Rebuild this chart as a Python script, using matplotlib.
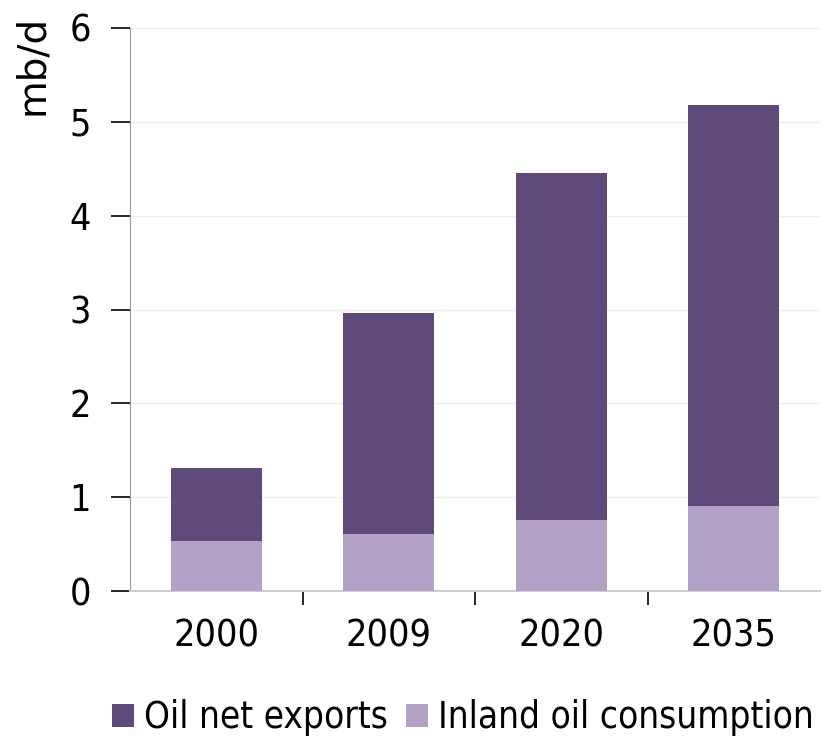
import numpy as np
from matplotlib import pyplot as plt

years = ["2000", "2009", "2020", "2035"]
inland = [0.53, 0.61, 0.76, 0.91]
exports = [0.78, 2.35, 3.69, 4.27]

dark = "#604a7b"
light = "#b3a2c7"

plt.rcParams["font.family"] = "DejaVu Sans"
plt.rcParams["font.stretch"] = "condensed"

fig = plt.figure(figsize=(8.21, 7.36), dpi=100)
ax = fig.add_axes([130 / 821, 145 / 736, 690 / 821, 563 / 736])

x = np.arange(len(years))
w = 0.53
ax.bar(x, exports, w, bottom=inland, color=dark, label="Oil net exports", zorder=3)
ax.bar(x, inland, w, color=light, label="Inland oil consumption", zorder=3)

ax.set_xlim(-0.5, 3.5)
ax.set_ylim(0, 6)
ax.set_yticks(range(7))
ax.set_xticks(x)
ax.set_xticklabels(years)
ax.set_xticks([0.5, 1.5, 2.5], minor=True)
ax.tick_params(axis="x", which="major", length=0, pad=20, labelsize=27)
ax.tick_params(axis="x", which="minor", length=10, width=1.2, color="black", direction="out")
ax.tick_params(axis="y", length=14, width=1.2, color="black", labelsize=27, pad=14)
ax.grid(axis="y", color="#eeeeee", linewidth=1, zorder=0)

for s in ["top", "right"]:
    ax.spines[s].set_visible(False)
ax.spines["left"].set_color("#999999")
ax.spines["bottom"].set_color("#cccccc")
ax.spines["bottom"].set_linewidth(1.5)

ax.set_ylabel("mb/d", fontsize=28, fontstretch="normal")
ax.yaxis.set_label_coords(-0.115, 0.934)

ax.legend(loc="center left", bbox_to_anchor=(112 / 821, 18 / 736), bbox_transform=fig.transFigure,
          ncol=2, frameon=False, fontsize=26.5, handlelength=0.6, handleheight=0.6,
          handletextpad=0.27, columnspacing=0.5, borderpad=0, borderaxespad=0)

fig.savefig("out.png", dpi=100)
